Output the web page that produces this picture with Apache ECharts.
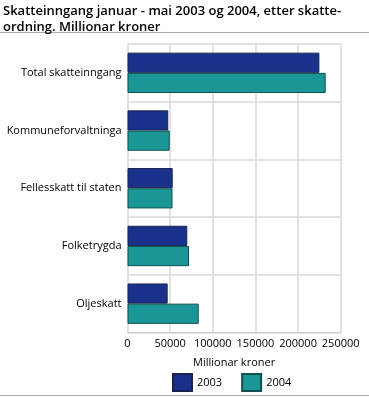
<!DOCTYPE html>
<html><head><meta charset="utf-8">
<script src="https://cdn.jsdelivr.net/npm/echarts@6/dist/echarts.min.js"></script>
<style>html,body{margin:0;padding:0;background:#fff}#c{width:369px;height:397px}</style>
</head><body><div id="c"></div>
<script>
const categories = ["Total skatteinngang", "Kommuneforvaltninga", "Fellesskatt til staten", "Folketrygda", "Oljeskatt"];
const values2003 = [225000, 47800, 53000, 70100, 47100];
const values2004 = [232400, 49500, 52800, 72100, 83500];
const seriesNames = ["2003", "2004"];
const xTicks = [0, 50000, 100000, 150000, 200000, 250000];

const chart = echarts.init(document.getElementById('c'), null, {renderer: 'canvas'});
const font = "'Open Sans', 'DejaVu Sans', sans-serif";
chart.setOption({
  animation: false,
  textStyle: {fontFamily: font},
  title: {
    text: "Skatteinngang januar - mai 2003 og 2004, etter skatte-\nordning. Millionar kroner",
    left: 3, top: 3, padding: 0,
    textStyle: {fontSize: 13, fontWeight: 600, color: '#000', lineHeight: 16, fontFamily: font}
  },
  graphic: [
    {type: 'line', shape: {x1: 0, y1: 32.5, x2: 369, y2: 32.5}, style: {stroke: '#aaa', lineWidth: 1}},
    {type: 'line', shape: {x1: 0, y1: 395.5, x2: 369, y2: 395.5}, style: {stroke: '#aaa', lineWidth: 1}}
  ],
  legend: {
    data: seriesNames,
    left: 172, top: 373, padding: 0,
    itemWidth: 19, itemHeight: 17, itemGap: 19,
    icon: 'rect',
    textStyle: {fontSize: 11, color: '#000', fontFamily: font}
  },
  grid: {left: 127.5, right: 28.3, top: 44, bottom: 64.5, containLabel: false, outerBoundsMode: 'none'},
  xAxis: {
    type: 'value', min: 0, max: 250000, interval: 50000,
    name: 'Millionar kroner', nameLocation: 'middle', nameGap: 25,
    nameTextStyle: {fontSize: 11, color: '#000', fontFamily: font},
    axisLine: {show: true, lineStyle: {color: '#ccc'}},
    axisTick: {show: false},
    axisLabel: {fontSize: 11, color: '#000', margin: 6, fontFamily: font,
      formatter: v => xTicks.includes(v) ? String(v) : ''},
    splitLine: {show: true, lineStyle: {color: '#d9d9d9', width: 1.5}}
  },
  yAxis: {
    type: 'category', data: categories, inverse: true,
    axisLine: {show: false},
    axisTick: {show: false},
    axisLabel: {fontSize: 11, color: '#000', margin: 6, fontFamily: font},
    splitLine: {show: true, lineStyle: {color: '#d9d9d9', width: 1.5}}
  },
  series: [
    {name: seriesNames[0], type: 'bar', data: values2003, barGap: '0%', barCategoryGap: '30%',
     itemStyle: {color: '#1a318c', borderColor: '#1b2450', borderWidth: 1}},
    {name: seriesNames[1], type: 'bar', data: values2004, barGap: '0%', barCategoryGap: '30%',
     itemStyle: {color: '#1a9696', borderColor: '#10504f', borderWidth: 1}}
  ]
});
</script></body></html>
